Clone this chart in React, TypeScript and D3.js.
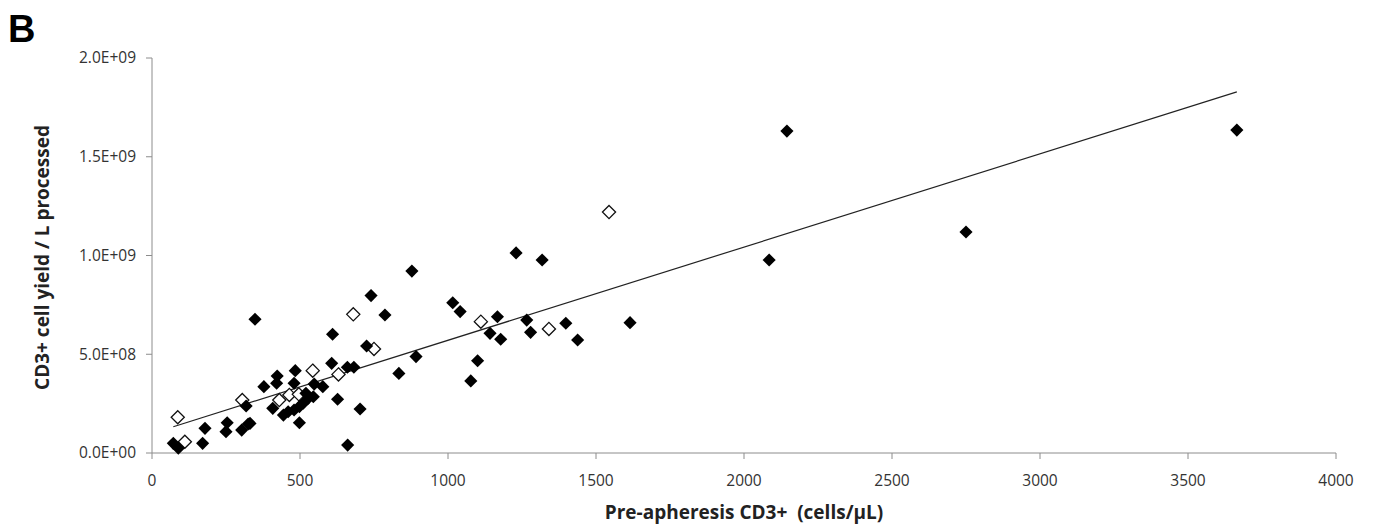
import * as d3 from "d3";

// filled diamonds: [CD3+ cells/uL, yield per L]
const filledX = [
  72, 89, 171, 179, 250, 254, 303, 318, 325, 331, 348, 378, 408, 421, 423, 444,
  460, 480, 480, 484, 498, 498, 511, 520, 528, 545, 548, 577, 607, 610, 627, 660,
  661, 682, 703, 725, 740, 787, 834, 878, 892, 1016, 1041, 1077, 1100, 1142,
  1167, 1178, 1230, 1266, 1279, 1318, 1398, 1438, 1615, 2085, 2145, 2750, 3665,
];
const filledY = [
  0.049e9, 0.024e9, 0.049e9, 0.125e9, 0.108e9, 0.153e9, 0.116e9, 0.238e9,
  0.147e9, 0.15e9, 0.677e9, 0.336e9, 0.226e9, 0.353e9, 0.39e9, 0.192e9,
  0.209e9, 0.218e9, 0.353e9, 0.417e9, 0.235e9, 0.153e9, 0.252e9, 0.302e9,
  0.277e9, 0.285e9, 0.349e9, 0.336e9, 0.454e9, 0.601e9, 0.272e9, 0.434e9,
  0.04e9, 0.434e9, 0.223e9, 0.542e9, 0.797e9, 0.699e9, 0.403e9, 0.921e9,
  0.488e9, 0.761e9, 0.716e9, 0.365e9, 0.467e9, 0.606e9, 0.69e9, 0.576e9,
  1.013e9, 0.673e9, 0.611e9, 0.977e9, 0.657e9, 0.572e9, 0.66e9, 0.977e9,
  1.63e9, 1.119e9, 1.635e9,
];

// open diamonds
const openX = [87, 111, 305, 430, 464, 496, 543, 630, 680, 750, 1111, 1341, 1544];
const openY = [
  0.181e9, 0.057e9, 0.268e9, 0.268e9, 0.294e9, 0.297e9, 0.417e9, 0.398e9,
  0.702e9, 0.527e9, 0.665e9, 0.628e9, 1.22e9,
];

// linear trend line
const trendSlope = 471800;
const trendIntercept = 9.9e7;
const trendRange = [72, 3665];

const xTicks = [0, 500, 1000, 1500, 2000, 2500, 3000, 3500, 4000];
const yTicks = [0, 5e8, 1e9, 1.5e9, 2e9];

const fmtY = (v: number) => {
  const e = v === 0 ? 0 : Math.floor(Math.log10(v));
  const m = v / Math.pow(10, e);
  return `${m.toFixed(1)}E+${String(e).padStart(2, "0")}`;
};

export default function App() {
  const width = 1373;
  const height = 529;
  const margin = { left: 152, right: 37, top: 58, bottom: 76 };

  const x = d3
    .scaleLinear()
    .domain([0, 4000])
    .range([margin.left, width - margin.right]);
  const y = d3
    .scaleLinear()
    .domain([0, 2e9])
    .range([height - margin.bottom, margin.top]);

  const diamond = d3.symbol().type(d3.symbolDiamond2).size(110)();
  const axisColor = "#8c8c8c";
  const font = "'Open Sans', 'DejaVu Sans', sans-serif";

  const trend = d3.line<number>()
    .x((d) => x(d))
    .y((d) => y(trendSlope * d + trendIntercept))(trendRange);

  const y0 = y(0);

  return (
    <svg
      width={width}
      height={height}
      style={{ position: "absolute", left: 0, top: 0, background: "#fff" }}
      fontFamily={font}
    >
      <text x={8} y={42} fontSize={38} fontWeight="bold" fontFamily="'Liberation Sans', Arial, sans-serif">
        B
      </text>

      {/* axes */}
      <line x1={x(0)} x2={x(0)} y1={y(2e9)} y2={y0} stroke={axisColor} />
      <line x1={x(0)} x2={x(4000)} y1={y0} y2={y0} stroke={axisColor} />
      {yTicks.map((t) => (
        <g key={"y" + t}>
          <line x1={x(0) - 6} x2={x(0)} y1={y(t)} y2={y(t)} stroke={axisColor} />
          <text x={x(0) - 16} y={y(t)} dy="0.35em" textAnchor="end" fontSize={15.5} fill="#333">
            {fmtY(t)}
          </text>
        </g>
      ))}
      {xTicks.map((t) => (
        <g key={"x" + t}>
          <line x1={x(t)} x2={x(t)} y1={y0} y2={y0 + 6} stroke={axisColor} />
          <text x={x(t)} y={y0 + 33} textAnchor="middle" fontSize={15.5} fill="#333">
            {t}
          </text>
        </g>
      ))}

      <text
        x={x(2000)}
        y={height - 10}
        textAnchor="middle"
        fontSize={19}
        fontWeight="bold"
        fill="#222"
        style={{ whiteSpace: "pre" }}
      >
        {"Pre-apheresis CD3+  (cells/\u03bcL)"}
      </text>
      <text
        transform={`translate(49, ${y(1e9) + 2}) rotate(-90)`}
        textAnchor="middle"
        fontSize={19}
        fontWeight="bold"
        fill="#222"
      >
        CD3+ cell yield / L processed
      </text>

      <path d={trend ?? ""} fill="none" stroke="#222" strokeWidth={1.2} />

      {openX.map((v, i) => (
        <path
          key={"o" + i}
          d={diamond}
          transform={`translate(${x(v)}, ${y(openY[i])})`}
          fill="#fff"
          stroke="#111"
          strokeWidth={1.3}
        />
      ))}
      {filledX.map((v, i) => (
        <path
          key={"f" + i}
          d={diamond}
          transform={`translate(${x(v)}, ${y(filledY[i])})`}
          fill="#000"
        />
      ))}
    </svg>
  );
}
